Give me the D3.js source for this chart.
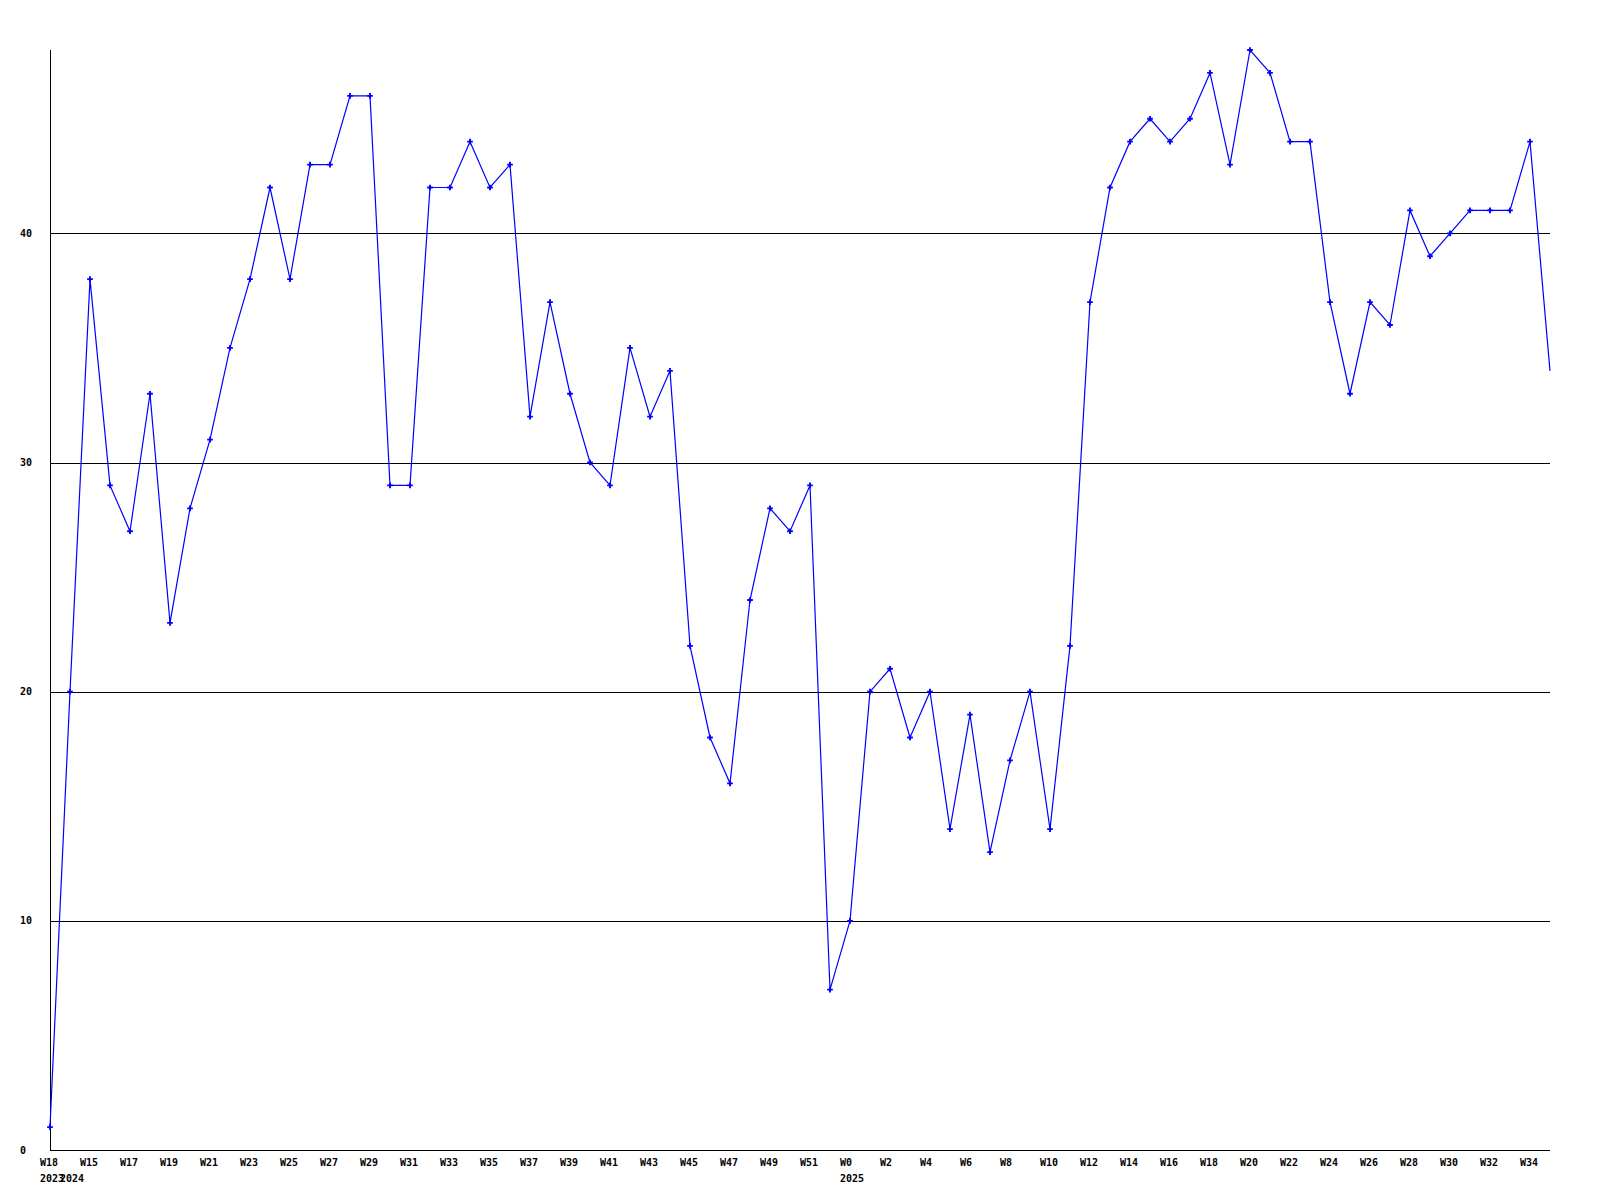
<!DOCTYPE html>
<html><head><meta charset="utf-8">
<script src="https://cdn.jsdelivr.net/npm/d3@7"></script>
<style>
html,body{margin:0;padding:0;background:#fff;}
svg{display:block;}
text{font-family:"DejaVu Sans Mono","Liberation Mono",monospace;font-weight:bold;font-size:10px;fill:#000;}
</style></head>
<body>
<svg id="chart" width="1600" height="1200"></svg>
<script>
// Week of each point (index order)
const weeks = [
 "W18",
 "W14","W15","W16","W17","W18","W19","W20","W21","W22","W23","W24","W25","W26",
 "W27","W28","W29","W30","W31","W32","W33","W34","W35","W36","W37","W38","W39",
 "W40","W41","W42","W43","W44","W45","W46","W47","W48","W49","W50","W51","W52",
 "W0","W1","W2","W3","W4","W5","W6","W7","W8","W9","W10","W11","W12","W13",
 "W14","W15","W16","W17","W18","W19","W20","W21","W22","W23","W24","W25","W26",
 "W27","W28","W29","W30","W31","W32","W33","W34","W35"
];
const values = [
 1,
 20,38,29,27,33,23,28,31,35,38,42,38,43,
 43,46,46,29,29,42,42,44,42,43,32,37,33,
 30,29,35,32,34,22,18,16,24,28,27,29,7,
 10,20,21,18,20,14,19,13,17,20,14,22,37,42,
 44,45,44,45,47,43,48,47,44,44,37,33,37,
 36,41,39,40,41,41,41,44,34
];
// Indices that carry a week label
const labelIdx = [0,2,4,6,8,10,12,14,16,18,20,22,24,26,28,30,32,34,36,38,
                  40,42,44,46,48,50,52,54,56,58,60,62,64,66,68,70,72,74];
// Year labels: index where the year starts
const yearLabels = [{i:0,t:"2023"},{i:1,t:"2024"},{i:40,t:"2025"}];
const yTicks = [0,10,20,30,40];
const yMax = 48;

(function(){
const svg = d3.select("#chart");
const mLeft = 50, mRight = 1550, mTop = 50, mBottom = 1150;
const x = d3.scaleLinear().domain([0, values.length - 1]).range([mLeft, mRight]);
const y = d3.scaleLinear().domain([0, yMax]).range([mBottom, mTop]);

// grid lines
svg.append("g").selectAll("line").data(yTicks.filter(d => d > 0)).join("line")
  .attr("x1", mLeft).attr("x2", mRight)
  .attr("y1", d => Math.round(y(d)) + 0.5).attr("y2", d => Math.round(y(d)) + 0.5)
  .attr("stroke", "#000").attr("stroke-width", 1).attr("shape-rendering", "crispEdges");

// axes lines
svg.append("line").attr("x1", mLeft + 0.5).attr("x2", mLeft + 0.5).attr("y1", mTop).attr("y2", mBottom)
  .attr("stroke", "#000").attr("shape-rendering", "crispEdges");
svg.append("line").attr("x1", mLeft).attr("x2", mRight).attr("y1", mBottom + 0.5).attr("y2", mBottom + 0.5)
  .attr("stroke", "#000").attr("shape-rendering", "crispEdges");

// y tick labels
svg.append("g").selectAll("text").data(yTicks).join("text")
  .attr("x", 20).attr("y", d => y(d)).attr("dy", "0.35em").text(d => d);

// x week labels
svg.append("g").selectAll("text").data(labelIdx).join("text")
  .attr("x", i => x(i) - 10).attr("y", 1166).text(i => weeks[i]);

// year labels
svg.append("g").selectAll("text").data(yearLabels).join("text")
  .attr("x", d => x(d.i) - 10).attr("y", 1182).text(d => d.t);

// line
const line = d3.line().x((d, i) => x(i)).y(d => y(d));
svg.append("path").datum(values).attr("d", line)
  .attr("fill", "none").attr("stroke", "#0000ff").attr("stroke-width", 1.2);

// markers
const sym = d3.symbol().type(d3.symbolCross).size(18);
svg.append("g").selectAll("path").data(values.slice(0, values.length - 1)).join("path")
  .attr("transform", (d, i) => `translate(${x(i)},${y(d)})`)
  .attr("d", sym).attr("fill", "#0000ff");
})();
</script>
</body></html>
